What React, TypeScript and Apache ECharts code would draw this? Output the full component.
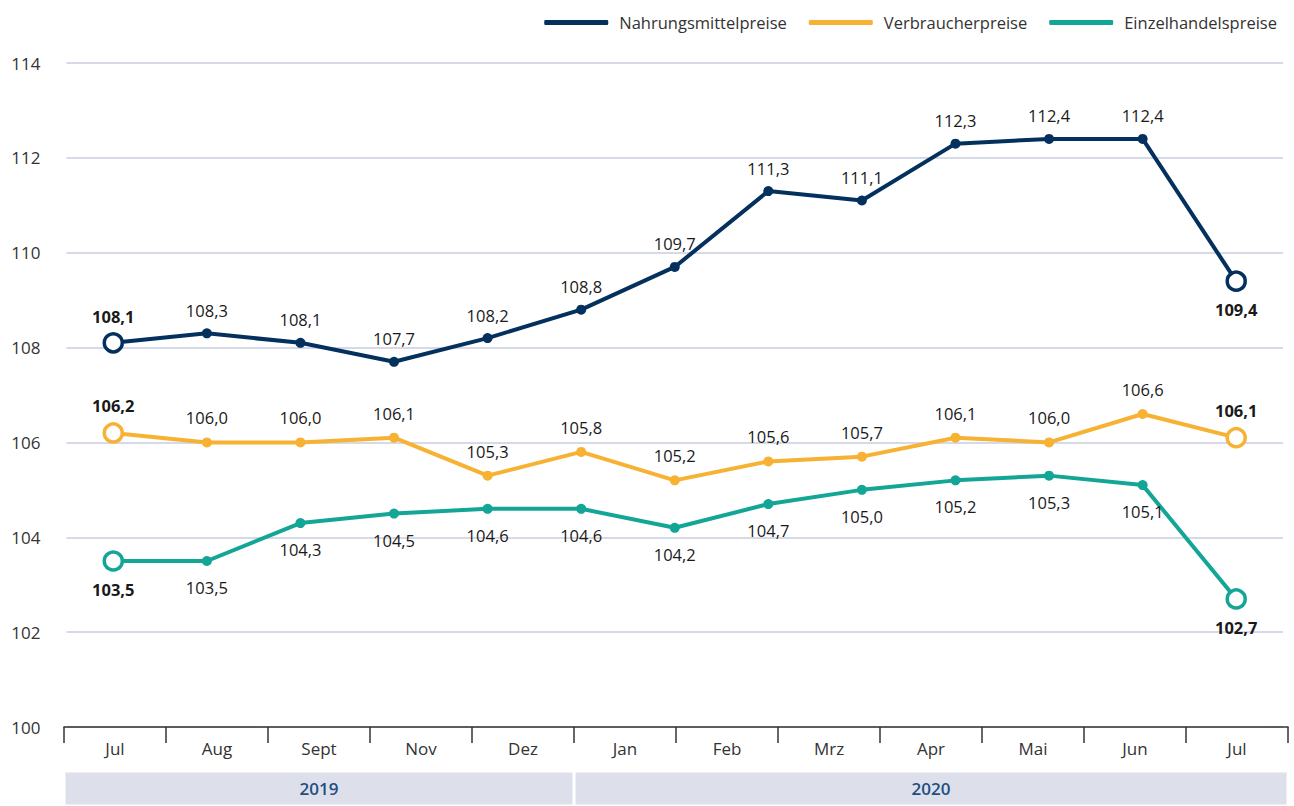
import React, { useEffect, useRef } from "react";
import * as echarts from "echarts";

const dataMonths = ["Jul 19", "Aug 19", "Sep 19", "Okt 19", "Nov 19", "Dez 19", "Jan 20", "Feb 20", "Mrz 20", "Apr 20", "Mai 20", "Jun 20", "Jul 20"];
const axisLabels = ["Jul", "Aug", "Sept", "Nov", "Dez", "Jan", "Feb", "Mrz", "Apr", "Mai", "Jun", "Jul"];
const nahrung = [108.1, 108.3, 108.1, 107.7, 108.2, 108.8, 109.7, 111.3, 111.1, 112.3, 112.4, 112.4, 109.4];
const verbraucher = [106.2, 106.0, 106.0, 106.1, 105.3, 105.8, 105.2, 105.6, 105.7, 106.1, 106.0, 106.6, 106.1];
const einzelhandel = [103.5, 103.5, 104.3, 104.5, 104.6, 104.6, 104.2, 104.7, 105.0, 105.2, 105.3, 105.1, 102.7];
const years = ["2019", "2020"];
const yearSpans = [5, 7];
const yTicks = { min: 100, max: 114, interval: 2 };

const FONT = "'Open Sans', 'Noto Sans', sans-serif";
const NAVY = "#04305e";
const YELLOW = "#f7b133";
const TEAL = "#13a596";

const fmt = (v: number) => v.toFixed(1).replace(".", ",");

function buildData(values: number[], color: string, pos: "top" | "bottom", dMid: number, dEnd: number) {
  const last = values.length - 1;
  return values.map((v, i) => {
    const isEnd = i === 0 || i === last;
    return {
      value: v,
      symbol: "circle",
      symbolSize: isEnd ? 18 : 10,
      itemStyle: isEnd
        ? { color: "#ffffff", borderColor: color, borderWidth: 3.5 }
        : { color: color, borderWidth: 0 },
      label: {
        show: true,
        position: pos,
        distance: isEnd ? dEnd : dMid,
        fontWeight: isEnd ? "bold" : "normal",
        fontSize: 16.5,
        fontFamily: FONT,
        color: "#1a1a1a",
        formatter: (pr: any) => fmt(pr.value),
      },
    };
  });
}

export default function App() {
  const ref = useRef<HTMLDivElement>(null);
  useEffect(() => {
    if (!ref.current) return;
    const chart = echarts.init(ref.current, undefined, { renderer: "svg" });
    const lastN = nahrung.length - 1;
    const navyData = buildData(nahrung, NAVY, "top", 9.5, 7);
    (navyData[lastN].label as any).position = "bottom";
    (navyData[lastN].label as any).distance = 9.5;
    const option: any = {
      animation: false,
      textStyle: { fontFamily: FONT },
      legend: {
        right: 12,
        top: 9,
        icon: "roundRect",
        itemWidth: 64,
        itemHeight: 5,
        itemGap: 22,
        textStyle: { fontSize: 16.5, color: "#333", fontFamily: FONT, padding: [0, 0, 0, 6] },
        data: ["Nahrungsmittelpreise", "Verbraucherpreise", "Einzelhandelspreise"],
      },
      grid: [
        { left: 66.5, right: 11, top: 63, bottom: 79 },
        { left: 64, right: 6, top: 63, bottom: 79 },
        { left: 64, right: 6, top: 771, height: 35 },
      ],
      xAxis: [
        { type: "category", gridIndex: 0, data: dataMonths, boundaryGap: true, show: false },
        {
          type: "category",
          gridIndex: 1,
          data: axisLabels,
          boundaryGap: true,
          axisLine: { show: true, lineStyle: { color: "#333", width: 1.5 } },
          axisTick: { show: true, length: 16, lineStyle: { color: "#333", width: 1.5 } },
          axisLabel: { fontSize: 17, color: "#333", margin: 13, fontFamily: FONT },
          splitLine: { show: false },
        },
        { type: "value", gridIndex: 2, min: 0, max: 12, show: false },
      ],
      yAxis: [
        {
          type: "value",
          gridIndex: 0,
          min: yTicks.min,
          max: yTicks.max,
          interval: yTicks.interval,
          axisLine: { show: false },
          axisTick: { show: false },
          axisLabel: { fontSize: 17, color: "#333", margin: 26, fontFamily: FONT },
          splitLine: { show: true, lineStyle: { color: "#c9ccdf", width: 1.5 } },
        },
        { type: "value", gridIndex: 1, min: yTicks.min, max: yTicks.max, show: false },
        { type: "category", gridIndex: 2, data: ["Jahr"], show: false },
      ],
      series: [
        {
          name: "Nahrungsmittelpreise",
          type: "line",
          xAxisIndex: 0,
          yAxisIndex: 0,
          data: navyData,
          lineStyle: { color: NAVY, width: 4 },
          itemStyle: { color: NAVY },
          z: 5,
        },
        {
          name: "Verbraucherpreise",
          type: "line",
          xAxisIndex: 0,
          yAxisIndex: 0,
          data: buildData(verbraucher, YELLOW, "top", 11, 8),
          lineStyle: { color: YELLOW, width: 4 },
          itemStyle: { color: YELLOW },
          z: 4,
        },
        {
          name: "Einzelhandelspreise",
          type: "line",
          xAxisIndex: 0,
          yAxisIndex: 0,
          data: buildData(einzelhandel, TEAL, "bottom", 13, 9),
          lineStyle: { color: TEAL, width: 4 },
          itemStyle: { color: TEAL },
          z: 3,
        },
        ...years.map((y, i) => ({
          name: y,
          type: "bar",
          stack: "years",
          xAxisIndex: 2,
          yAxisIndex: 2,
          barWidth: "100%",
          data: [yearSpans[i]],
          itemStyle: { color: "#dde0ea", borderColor: "#ffffff", borderWidth: 1.5 },
          label: {
            show: true,
            position: "inside",
            formatter: y,
            fontSize: 17,
            fontWeight: 600,
            color: "#1d4f82",
            fontFamily: FONT,
          },
          emphasis: { disabled: true },
        })),
      ],
    };
    chart.setOption(option);
    return () => chart.dispose();
  }, []);
  return (
    <div
      ref={ref}
      style={{ position: "fixed", left: 0, top: 0, width: 1294, height: 806, background: "#fff" }}
    />
  );
}
